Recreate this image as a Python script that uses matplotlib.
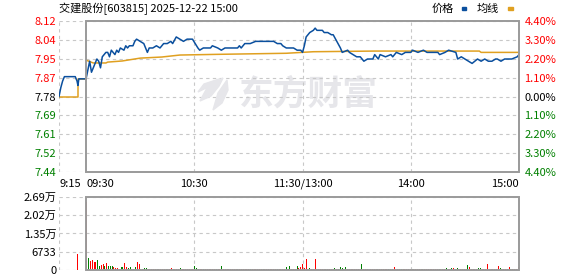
import numpy as np
import matplotlib.pyplot as plt
from matplotlib.patches import Rectangle, Polygon
from matplotlib.transforms import blended_transform_factory

plt.rcParams['font.family'] = ['Noto Sans CJK SC', 'DejaVu Sans']

# ---- data ----
prev_close = 7.78

# call auction 9:15-9:30 (minutes before the open are negative)
pre_minutes = [-15, -14, -13, -12, -9, -6, -5, -4.5, -4, 0]
pre_prices = [7.78, 7.82, 7.85, 7.87, 7.87, 7.87, 7.85, 7.83, 7.86, 7.86]
pre_avg_minutes = [-15, -4.5, -4.5, 0]
pre_avg = [7.78, 7.78, 7.86, 7.86]
pre_vol_minute = -5
pre_volume = 5900

# trading minutes 0..240 (9:30 -> 11:30, 13:00 -> 15:00)
price_minutes = [0, 1, 2, 3, 4, 6, 7, 8, 9, 11, 12, 13, 14, 16, 17, 18, 19, 21, 22, 23,
                 24, 26, 27, 28, 30, 32, 33, 34, 35, 37, 39, 41, 43, 45, 47, 48, 50, 52, 54, 56,
                 59, 62, 63, 65, 67, 69, 70, 73, 75, 77, 80, 82, 84, 85, 86, 88, 91, 94, 96, 98,
                 101, 104, 106, 108, 109, 111, 113, 115, 117, 119, 120, 121, 122, 124, 126, 127, 128, 131, 132, 134,
                 136, 137, 139, 141, 142, 145, 146, 148, 150, 152, 154, 156, 159, 160, 162, 163, 166, 169, 170, 172,
                 175, 177, 180, 181, 184, 187, 189, 192, 195, 196, 199, 201, 205, 206, 208, 210, 212, 214, 217, 219,
                 221, 223, 225, 227, 228, 230, 232, 234, 236, 239, 240]
prices = [7.86, 7.90, 7.94, 7.89, 7.91, 7.95, 7.94, 7.91, 7.96, 7.98, 7.98, 7.96, 7.99, 7.97, 7.99, 7.98, 8.00, 7.99, 8.01, 8.00,
          8.01, 8.01, 8.03, 8.04, 8.03, 8.02, 8.00, 7.98, 8.00, 8.00, 8.01, 8.00, 8.02, 8.02, 8.03, 8.02, 8.05, 8.04, 8.03, 8.04,
          8.04, 8.00, 7.99, 8.00, 8.00, 8.00, 8.01, 8.00, 7.99, 8.00, 8.00, 8.00, 8.00, 8.01, 8.00, 8.02, 8.02, 8.03, 8.03, 8.03,
          8.03, 8.03, 8.02, 8.02, 8.01, 8.00, 8.00, 8.00, 7.99, 7.99, 7.98, 8.01, 8.05, 8.07, 8.08, 8.09, 8.08, 8.08, 8.07, 8.07,
          8.06, 8.06, 8.03, 8.00, 7.98, 7.99, 7.98, 7.97, 7.96, 7.96, 7.94, 7.95, 7.95, 7.97, 7.95, 7.97, 7.96, 7.97, 7.96, 7.98,
          7.97, 7.98, 7.98, 7.99, 7.98, 7.99, 7.98, 7.98, 7.98, 7.97, 7.98, 7.99, 7.98, 7.95, 7.96, 7.95, 7.94, 7.93, 7.95, 7.94,
          7.95, 7.94, 7.94, 7.95, 7.95, 7.94, 7.95, 7.95, 7.95, 7.96, 7.97]

avg_minutes = [0, 4, 11, 12, 20, 30, 42, 52, 72, 111, 126, 160, 218, 219, 240]
avg_prices = [7.945, 7.932, 7.932, 7.936, 7.941, 7.954, 7.959, 7.968, 7.971, 7.976, 7.983,
              7.986, 7.986, 7.980, 7.980]

volumes = [25100, 4300, 3400, 3700, 2900, 2900, 3800, 1600, 2000, 2300,
           1600, 2700, 1300, 1500, 1500, 1000, 700, 700, 500, 1100,
           1200, 2700, 1200, 700, 1100, 500, 500, 1200, 3100, 2200,
           500, 400, 700, 700, 400, 400, 300, 400, 400, 300,
           400, 400, 300, 400, 400, 300, 400, 700, 400, 300,
           400, 400, 700, 400, 300, 400, 400, 300, 400, 400,
           1400, 700, 400, 300, 400, 400, 300, 400, 400, 300,
           400, 300, 400, 400, 300, 1500, 400, 300, 400, 400,
           300, 400, 400, 300, 400, 400, 300, 400, 400, 300,
           400, 400, 300, 400, 400, 300, 400, 400, 300, 400,
           400, 300, 400, 400, 300, 400, 400, 300, 400, 400,
           300, 1100, 400, 1500, 400, 300, 400, 1500, 700, 1200,
           2200, 600, 4000, 400, 700, 400, 300, 4000, 400, 300,
           400, 400, 300, 400, 400, 300, 400, 400, 700, 300,
           400, 1100, 700, 400, 1100, 400, 300, 400, 400, 300,
           400, 400, 300, 2200, 400, 300, 400, 400, 300, 400,
           400, 300, 400, 400, 300, 400, 400, 300, 400, 400,
           300, 1100, 400, 400, 300, 400, 400, 300, 400, 400,
           300, 400, 400, 300, 400, 400, 300, 400, 400, 300,
           400, 400, 300, 400, 400, 300, 400, 400, 300, 400,
           700, 400, 300, 700, 700, 400, 700, 400, 300, 400,
           400, 300, 1800, 1100, 400, 300, 400, 400, 700, 700,
           400, 300, 400, 2200, 400, 300, 400, 400, 300, 1500,
           700, 400, 300, 400, 400, 1100, 400, 300, 400, 400, 1200]
vol_colors = ("rgrrrrggrr" "grgggrrrrg" "grrggrrgrr" "ggggrrrrrg" "rrrrgrrrrr"
              "rrgrrrrrrr" "ggrrrgrrrr" "rrgrrgrrrr" "rrrrgrrrrr" "rgrrrrrrgr"
              "rrrrrrgrrr" "rgrgrrrgrr" "rrrrgrrrrr" "rrrgrrrrgr" "gggrgrrrrr"
              "rrrgrrrrrr" "rrgrrrrrgr" "rrrrrgrrrr" "rgrrrrrgrr" "rrrrrrgrrr"
              "grrgrrgrrr" "rrgrrrrrgg" "rrrrrrrrrr" "grrrrrgrrrr")

price_ticks = [prev_close * (1 + k * 0.011) for k in range(-4, 5)]
price_labels = ['7.44', '7.52', '7.61', '7.69', '7.78', '7.87', '7.95', '8.04', '8.12']
pct_labels = ['4.40%', '3.30%', '2.20%', '1.10%', '0.00%', '1.10%', '2.20%', '3.30%', '4.40%']
vol_max = 26933
vol_ticks = [0, 6733, 13467, 20200, 26933]
vol_labels = ['0', '6733', '1.35万', '2.02万', '2.69万']
time_pos = [-15, 0, 60, 120, 180, 240]
time_labels = ['9:15', '09:30', '10:30', '11:30/13:00', '14:00', '15:00']

RED = '#ff0000'
GREEN = '#008000'
BLUE = '#0a4f9e'
ORANGE = '#e0a020'
GRID = '#c8c8c8'
BORDER = '#9a9a9a'
MARK = '#e6e6ea'
FS = 8

fig = plt.figure(figsize=(5.78, 2.76), dpi=100)
ax = fig.add_axes([59 / 578, 1 - 172 / 276, 460 / 578, 151 / 276])
axv = fig.add_axes([59 / 578, 1 - 270 / 276, 460 / 578, 73 / 276])


def px(x, y):
    # pixel position in the picture -> figure fraction
    return (x / 578, 1 - y / 276)


def frame(a, ylo, yhi, hlines):
    a.set_xlim(-15, 240)
    a.set_ylim(ylo, yhi)
    for s in a.spines.values():
        s.set_visible(False)
    for y in hlines:
        a.plot([-15, 240], [y, y], color=GRID, lw=0.8, ls=(0, (3, 3)), zorder=1)
    for x in [-15, 60, 120, 180]:
        a.plot([x, x], [ylo, yhi], color=GRID, lw=0.8, ls=(0, (3, 3)), zorder=1)
    a.add_patch(Rectangle((0, ylo), 240, yhi - ylo, fill=False, ec=BORDER, lw=1.4,
                          zorder=5, clip_on=False))
    a.tick_params(length=0, labelsize=FS)
    a.set_xticks([])


frame(ax, price_ticks[0], price_ticks[-1], price_ticks)

# watermark: logo strokes + name
for pts in ([(223, 78), (208, 86), (200, 101), (211, 96), (219, 86)],
            [(227, 80), (218, 93), (213, 110), (222, 103), (228, 90)],
            [(219, 79), (204, 84), (198, 92), (206, 88)]):
    fig.patches.append(Polygon([px(x, y) for x, y in pts], closed=True,
                               transform=fig.transFigure, color=MARK, zorder=0))
ax.text(85, 7.79, '东方财富', fontsize=25, fontweight='bold', color=MARK,
        va='center', ha='left', zorder=0)

ax.plot(pre_minutes, pre_prices, color=BLUE, lw=1.1, zorder=3)
ax.plot(pre_avg_minutes, pre_avg, color=ORANGE, lw=1.1, zorder=2)
ax.plot(avg_minutes, avg_prices, color=ORANGE, lw=1.1, zorder=2)
ax.plot(price_minutes, prices, color=BLUE, lw=1.1, zorder=3)

ax.set_yticks(price_ticks)
ax.set_yticklabels(price_labels)
ax.tick_params(axis='y', pad=2)
for i, lab in enumerate(ax.get_yticklabels()):
    lab.set_color(RED if i > 4 else ('black' if i == 4 else GREEN))

axr = ax.twinx()
axr.set_ylim(ax.get_ylim())
for s in axr.spines.values():
    s.set_visible(False)
axr.set_yticks(price_ticks)
axr.set_yticklabels(pct_labels)
axr.tick_params(length=0, labelsize=FS, pad=4)
for i, lab in enumerate(axr.get_yticklabels()):
    lab.set_color(RED if i > 4 else ('black' if i == 4 else GREEN))

trans = blended_transform_factory(ax.transData, ax.transAxes)
for pos, lab in zip(time_pos, time_labels):
    ha = 'left' if pos <= 0 else ('right' if pos == 240 else 'center')
    ax.text(pos, -0.045, lab, transform=trans, ha=ha, va='top', fontsize=FS)

# volume panel
frame(axv, 0, vol_max, vol_ticks)
bar_x = np.arange(len(volumes)) * 240 / len(volumes) + 0.5
axv.bar(bar_x, volumes, width=0.55,
        color=[RED if c == 'r' else GREEN for c in vol_colors], zorder=3)
axv.bar([pre_vol_minute + 0.5], [pre_volume], width=0.55, color=RED, zorder=3)
axv.set_yticks(vol_ticks)
axv.set_yticklabels(vol_labels)
axv.tick_params(axis='y', pad=2)

# title and legend
fig.text(59 / 578, 1 - 9 / 276, '交建股份[603815] 2025-12-22 15:00', fontsize=FS,
         ha='left', va='center')
fig.text(432 / 578, 1 - 9 / 276, '价格', fontsize=FS, ha='left', va='center')
fig.text(477 / 578, 1 - 9 / 276, '均线', fontsize=FS, ha='left', va='center')
fig.patches.append(Rectangle((462 / 578, 1 - 9.5 / 276), 4 / 578, 2.5 / 276,
                             transform=fig.transFigure, color=BLUE))
fig.patches.append(Rectangle((508 / 578, 1 - 9.5 / 276), 5 / 578, 2.5 / 276,
                             transform=fig.transFigure, color=ORANGE))

fig.savefig('out.png', dpi=100)
